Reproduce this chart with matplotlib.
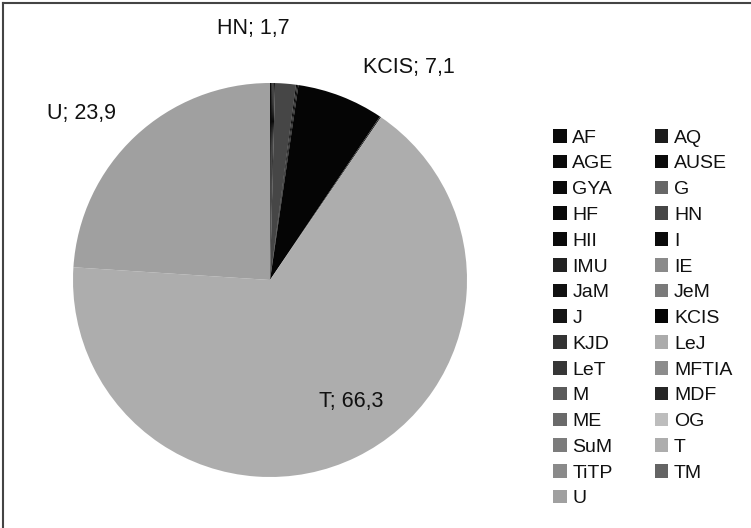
import numpy as np
import matplotlib.pyplot as plt
from matplotlib.patches import Patch
from matplotlib.lines import Line2D

plt.rcParams['font.family'] = ['Liberation Sans', 'DejaVu Sans']

# Share per category (%), in legend / pie order
categories = ['AF', 'AQ', 'AGE', 'AUSE', 'GYA', 'G', 'HF', 'HN', 'HII', 'I',
              'IMU', 'IE', 'JaM', 'JeM', 'J', 'KCIS', 'KJD', 'LeJ', 'LeT', 'MFTIA',
              'M', 'MDF', 'ME', 'OG', 'SuM', 'T', 'TiTP', 'TM', 'U']
values = [0.1, 0.0, 0.1, 0.1, 0.1, 0.0, 0.0, 1.7, 0.0, 0.1,
          0.0, 0.0, 0.1, 0.0, 0.0, 7.1, 0.0, 0.0, 0.0, 0.0,
          0.0, 0.1, 0.0, 0.0, 0.0, 66.3, 0.0, 0.0, 23.9]
colors = ['#0a0a0a', '#1c1c1c', '#0a0a0a', '#0a0a0a', '#0a0a0a', '#676767', '#0a0a0a', '#464646', '#0a0a0a', '#0a0a0a',
          '#222222', '#8a8a8a', '#111111', '#7a7a7a', '#151515', '#050505', '#333333', '#ababab', '#363636', '#8c8c8c',
          '#5a5a5a', '#262626', '#6a6a6a', '#bdbdbd', '#7c7c7c', '#adadad', '#8a8a8a', '#646464', '#a0a0a0']

# which slices get a data label
labelled = ['HN', 'KCIS', 'T', 'U']

fig = plt.figure(figsize=(7.51, 5.28), dpi=100)
ax = fig.add_axes([73 / 751, 51 / 528, 394 / 751, 394 / 528])

wedges, _ = ax.pie(values, colors=colors, startangle=90, counterclock=False,
                   radius=1, wedgeprops=dict(linewidth=0))
ax.set_xlim(-1, 1)
ax.set_ylim(-1, 1)
ax.set_aspect('equal')
ax.axis('off')

# label placement: distance from centre and pixel offset (x right, y up)
label_style = {'HN': (1.27, (-36, 2)),
               'KCIS': (1.28, (48, -23)),
               'T': (0.70, (21, 2)),
               'U': (1.28, (-16, -17))}
for name in labelled:
    i = categories.index(name)
    w = wedges[i]
    mid = np.deg2rad((w.theta1 + w.theta2) / 2)
    r, off = label_style[name]
    txt = '%s; %s' % (name, ('%.1f' % values[i]).replace('.', ','))
    ax.annotate(txt, (r * np.cos(mid), r * np.sin(mid)), xytext=(off[0] * 0.72, off[1] * 0.72),
                textcoords='offset points', ha='center', va='center', fontsize=15.5,
                color='#111111', annotation_clip=False)

# legend, row-major in two columns
handles = [Patch(facecolor=c, edgecolor='none') for c in colors]
order = list(range(0, len(categories), 2)) + list(range(1, len(categories), 2))
fig.legend([handles[i] for i in order], [categories[i] for i in order],
           ncol=2, loc='upper left', bbox_to_anchor=(553 / 751, 1 - 129 / 528),
           frameon=False, fontsize=14, handlelength=0.7, handleheight=0.7,
           handletextpad=0.3, columnspacing=2.1, labelspacing=0.42,
           borderpad=0, borderaxespad=0, labelcolor='#111111')

# frame lines at top and left
fig.add_artist(Line2D([3 / 751, 3 / 751], [0, 1 - 3 / 528], transform=fig.transFigure, color='#444444', lw=1.5))
fig.add_artist(Line2D([3 / 751, 1], [1 - 3 / 528, 1 - 3 / 528], transform=fig.transFigure, color='#444444', lw=1.5))

fig.savefig('out.png', dpi=100)
